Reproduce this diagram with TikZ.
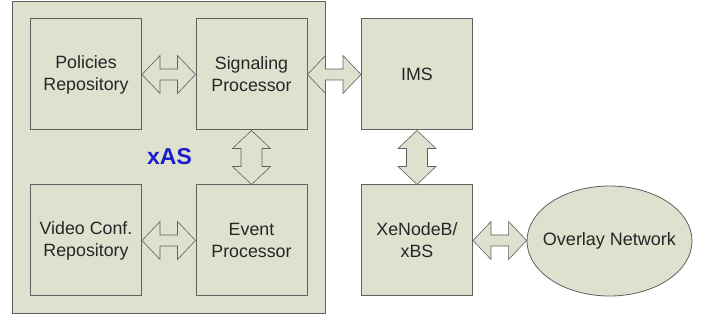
\documentclass[tikz,border=0pt]{standalone}
\usepackage{fontspec}
\setmainfont{Liberation Sans}
\usetikzlibrary{calc,shapes.geometric}
\definecolor{boxfill}{HTML}{DDE1CE}
\definecolor{boxline}{HTML}{606060}
\definecolor{xasblue}{HTML}{1C1CCC}
\definecolor{txt}{HTML}{262626}
\tikzset{
  blk/.style={draw=boxline, line width=1pt, fill=boxfill, minimum width=111pt, minimum height=111pt, inner sep=0pt, align=center, text=txt, font=\fontsize{17.8}{22}\selectfont},
  outerbox/.style={draw=boxline, line width=1pt, fill=boxfill, minimum width=313pt, minimum height=312pt, inner sep=0pt},
  ell/.style={draw=boxline, line width=0.8pt, fill=boxfill, ellipse, minimum width=165pt, minimum height=110pt, inner xsep=-12pt, inner ysep=0pt, text=txt, font=\fontsize{18}{22}\selectfont},
  arr/.style={draw=boxline, line width=0.6pt, fill=boxfill, line join=miter},
}
\newcommand\hdarrow[2]{\draw[arr] let \p1=(#1.east), \p2=(#2.west) in
  (\x1,\y1) -- (\x1+18pt,\y1+19pt) -- (\x1+18pt,\y1+5.5pt) -- (\x2-18pt,\y1+5.5pt) -- (\x2-18pt,\y1+19pt) -- (\x2,\y1)
  -- (\x2-18pt,\y1-19pt) -- (\x2-18pt,\y1-5.5pt) -- (\x1+18pt,\y1-5.5pt) -- (\x1+18pt,\y1-19pt) -- cycle;}
\newcommand\vdarrow[2]{\draw[arr] let \p1=(#1.south), \p2=(#2.north) in
  (\x1,\y1) -- (\x1+19pt,\y1-18pt) -- (\x1+10.5pt,\y1-18pt) -- (\x1+10.5pt,\y2+18pt) -- (\x1+19pt,\y2+18pt) -- (\x1,\y2)
  -- (\x1-19pt,\y2+18pt) -- (\x1-10.5pt,\y2+18pt) -- (\x1-10.5pt,\y1-18pt) -- (\x1-19pt,\y1-18pt) -- cycle;}
\begin{document}
\begin{tikzpicture}[x=1pt,y=-1pt]
\useasboundingbox (0,0) rectangle (713,320);
\node[outerbox] (xas) at (168.5,158) {};
\node[blk] (pol) at (86,74.5) {Policies\\Repository};
\node[blk] (sig) at (251.5,74.5) {Signaling\\Processor};
\node[blk] (vid) at (86,240.5) {Video Conf.\\Repository};
\node[blk] (evt) at (251.5,240.5) {Event\\Processor};
\node[font=\fontsize{23}{26}\bfseries\selectfont, text=xasblue] (lbl) at (169.5,157) {xAS};
\node[blk] (ims) at (417,74.5) {IMS};
\node[blk] (xbs) at (417,240.5) {XeNodeB/\\xBS};
\node[ell] (ovl) at (609.5,241) {Overlay Network};
\hdarrow{pol}{sig}
\hdarrow{vid}{evt}
\hdarrow{sig}{ims}
\hdarrow{xbs}{ovl}
\vdarrow{sig}{evt}
\vdarrow{ims}{xbs}
\end{tikzpicture}
\end{document}
